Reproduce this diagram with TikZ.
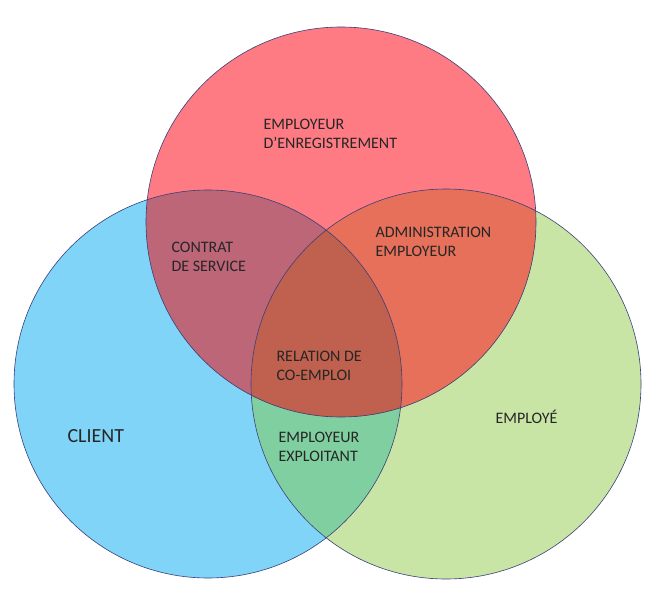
\documentclass[tikz,border=0pt]{standalone}
\usepackage{fontspec}
\setmainfont{Carlito}
\definecolor{redc}{HTML}{FF7B83}
\definecolor{bluec}{HTML}{80D4F8}
\definecolor{greenc}{HTML}{C9E5A5}
\definecolor{redblue}{HTML}{BC6678}
\definecolor{redgreen}{HTML}{E6705A}
\definecolor{bluegreen}{HTML}{80CFA0}
\definecolor{allc}{HTML}{C0604E}
\definecolor{rimc}{HTML}{3A3F7A}
\begin{document}
\begin{tikzpicture}[x=1pt,y=-1pt,
  lbl/.style={font=\fontsize{16}{19}\selectfont,align=left,text=black!85}]
\useasboundingbox (0,0) rectangle (664,599);
\fill[white] (0,0) rectangle (664,599);
\def\redcirc{(341,222) circle (195)}
\def\bluecirc{(208,384) circle (194)}
\def\greencirc{(446,384) circle (195)}
\fill[bluec] \bluecirc;
\fill[greenc] \greencirc;
\fill[redc] \redcirc;
\begin{scope}\clip \bluecirc; \fill[bluegreen] \greencirc; \end{scope}
\begin{scope}\clip \redcirc; \fill[redblue] \bluecirc; \end{scope}
\begin{scope}\clip \redcirc; \fill[redgreen] \greencirc; \end{scope}
\begin{scope}\clip \redcirc; \clip \bluecirc; \fill[allc] \greencirc; \end{scope}
\draw[rimc,line width=.6pt] \bluecirc \greencirc \redcirc;
\node[lbl,anchor=west] (enreg) at (260,134) {EMPLOYEUR\\D'ENREGISTREMENT};
\node[lbl,anchor=west] (contrat) at (168,257) {CONTRAT\\DE SERVICE};
\node[lbl,anchor=west] (admin) at (372,242) {ADMINISTRATION\\EMPLOYEUR};
\node[lbl,anchor=west] (coempl) at (273,366) {RELATION DE\\CO-EMPLOI};
\node[lbl,anchor=west] (exploit) at (275,447) {EMPLOYEUR\\EXPLOITANT};
\node[lbl,anchor=west,font=\fontsize{20}{22}\selectfont] (client) at (64,436) {CLIENT};
\node[lbl,anchor=west] (employe) at (492,417) {EMPLOYÉ};
\end{tikzpicture}
\end{document}
